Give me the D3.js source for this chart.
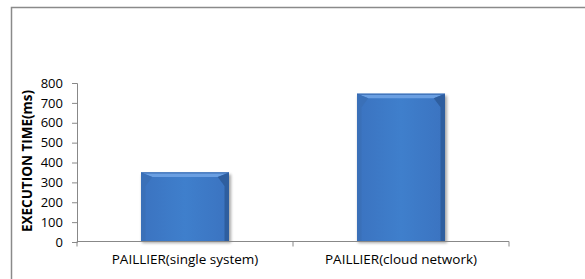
<!DOCTYPE html>
<html><head><meta charset="utf-8">
<script src="https://d3js.org/d3.v7.min.js"></script>
<style>body{margin:0;background:#fff}svg{display:block}</style>
</head><body>
<script>
const categories = ["PAILLIER(single system)", "PAILLIER(cloud network)"];
const values = [350, 746];
const yTicks = [0, 100, 200, 300, 400, 500, 600, 700, 800];
const yLabel = "EXECUTION TIME(ms)";

const W = 585, H = 279;
const svg = d3.select("body").append("svg").attr("width", W).attr("height", H);
const defs = svg.append("defs");
const g1 = defs.append("linearGradient").attr("id","face").attr("x1",0).attr("x2",1).attr("y1",0).attr("y2",0);
g1.append("stop").attr("offset","0").attr("stop-color","#3b73c0");
g1.append("stop").attr("offset","0.5").attr("stop-color","#3f7fcc");
g1.append("stop").attr("offset","1").attr("stop-color","#3b73c0");
const f = defs.append("filter").attr("id","sh").attr("x","-20%").attr("y","-20%").attr("width","140%").attr("height","140%");
f.append("feGaussianBlur").attr("stdDeviation",1.5);

// frame
svg.append("path").attr("d", `M11.5,${H} V7.5 H${W}`).attr("fill","none").attr("stroke","#8a8a8a").attr("stroke-width",1.5);

const x0 = 77, x1 = 509, yb = 242, yt = 83;
const x = d3.scaleBand().domain(categories).range([x0, x1]).paddingInner(0).paddingOuter(0);
const y = d3.scaleLinear().domain([0, 800]).range([yb, yt]);

// y axis
const ya = svg.append("g").attr("transform", `translate(${x0},0)`)
  .call(d3.axisLeft(y).tickValues(yTicks).tickSize(5).tickPadding(9));
ya.select(".domain").attr("stroke","#888");
ya.selectAll(".tick line").attr("stroke","#888");
ya.selectAll("text").attr("font-family","'Open Sans', sans-serif").attr("font-size","13px").attr("fill","#000");

// bars
const bw = 88;
const bars = svg.append("g");
categories.forEach((c, i) => {
  const cx = x(c) + x.bandwidth() / 2;
  const bx = cx - bw / 2, by = y(values[i]), bh = yb - by;
  const gb = bars.append("g");
  gb.append("rect").attr("x", bx + 1).attr("y", by + 2).attr("width", bw + 1).attr("height", bh - 1)
    .attr("fill", "#000").attr("opacity", 0.35).attr("filter", "url(#sh)");
  gb.append("rect").attr("x", bx).attr("y", by).attr("width", bw).attr("height", bh).attr("fill", "url(#face)");
  const b = 4.5;
  gb.append("path").attr("d", `M${bx},${by} H${bx+bw} L${bx+bw-b*2.5},${by+b} H${bx+b*2.5} Z`).attr("fill", "#6a9fe2");
  gb.append("path").attr("d", `M${bx},${by} L${bx+b*2.5},${by+b} L${bx+b},${by+b*3} V${by+bh} H${bx} Z`).attr("fill", "#3a70b8");
  gb.append("path").attr("d", `M${bx+bw},${by} L${bx+bw-b*2.5},${by+b} L${bx+bw-b},${by+b*3} V${by+bh} H${bx+bw} Z`).attr("fill", "#2e5e9f");
  gb.append("line").attr("x1", bx).attr("x2", bx+bw).attr("y1", by+0.5).attr("y2", by+0.5).attr("stroke","#3567ad").attr("stroke-width",1);
});

// x axis
const xa = svg.append("g").attr("transform", `translate(0,${yb - 0.5})`)
  .call(d3.axisBottom(x).tickSize(0).tickPadding(13));
xa.select(".domain").attr("stroke","#888").attr("d", `M${x0},0H${x1}`);
xa.selectAll("text").attr("font-family","'Open Sans', sans-serif").attr("font-size","13.5px").attr("fill","#000");
const bounds = [x0, x0 + x.bandwidth(), x1];
xa.selectAll(".bound").data(bounds).enter().append("line").attr("class","bound")
  .attr("x1", d => d).attr("x2", d => d).attr("y1", 0).attr("y2", 5).attr("stroke", "#888");

// y label
svg.append("text").attr("transform", `translate(32,161) rotate(-90)`).attr("text-anchor","middle")
  .attr("font-family","'Open Sans', sans-serif").attr("font-weight","bold").attr("font-size","13.5px").text(yLabel);
</script>
</body></html>
